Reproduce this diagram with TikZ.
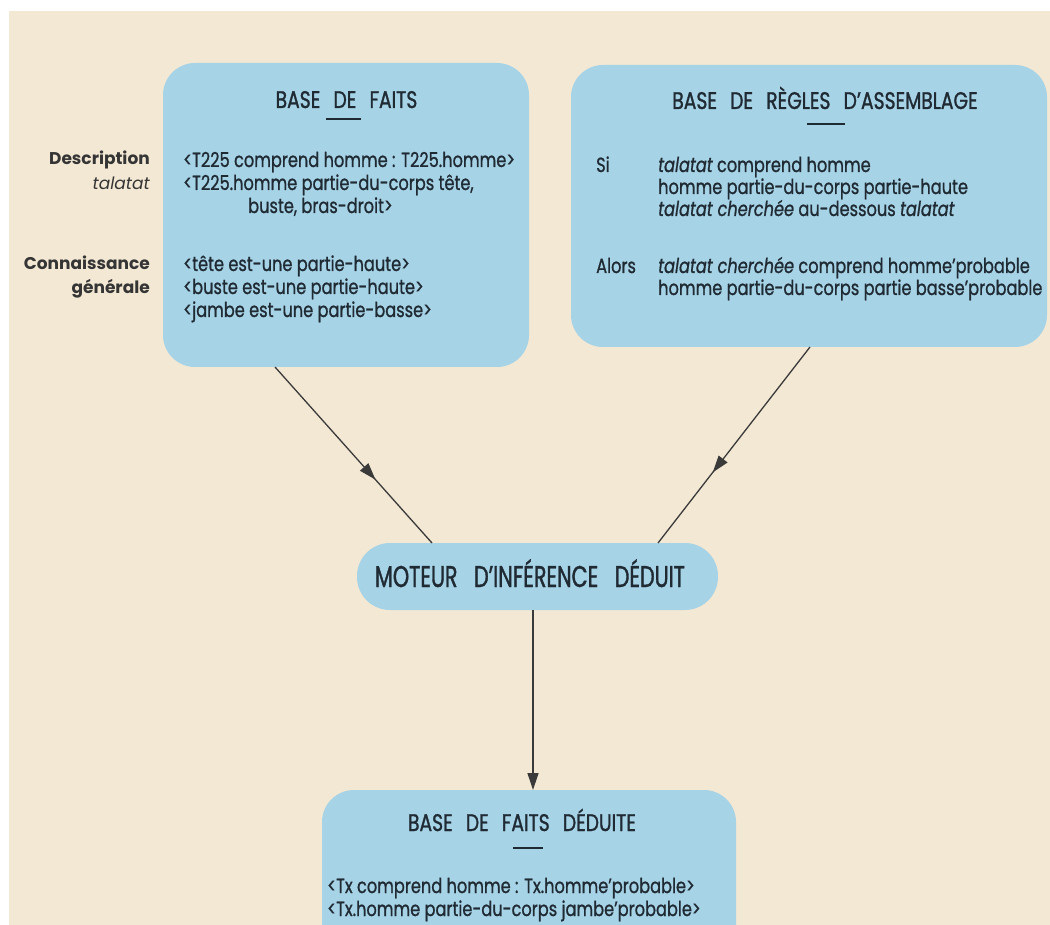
\documentclass[tikz,border=0pt]{standalone}
\usepackage{fontspec}
\usetikzlibrary{arrows.meta,decorations.markings}

% Narrow geometric sans for the panel texts, full width for the side labels
\newfontfamily\condfont[FakeStretch=0.79,FakeBold=0.9]{Poppins}
\newfontfamily\headfont[FakeStretch=0.78,FakeBold=1.2]{Poppins}
\newfontfamily\engfont[FakeStretch=0.69,FakeBold=1.2]{Poppins}
\newfontfamily\labelfont{Poppins}

\definecolor{paper}{HTML}{F3E8D4}
\definecolor{panel}{HTML}{A7D3E7}
\definecolor{ink}{HTML}{1F2A33}
\definecolor{wire}{HTML}{3A3A3A}
\definecolor{sidelabel}{HTML}{353535}

% wide spacing between the words of a heading
\newcommand{\wgap}{\hspace{0.55em}}

\begin{document}
\begin{tikzpicture}[x=1pt,y=-1pt,
  panelbox/.style={fill=panel, draw=none, rounded corners=32pt, inner sep=0pt, outer sep=0pt},
  pillbox/.style={fill=panel, draw=none, rounded corners=33pt, inner sep=0pt, outer sep=0pt},
  bodytext/.style={anchor=base west, inner sep=0pt, text=ink,
    font=\condfont\fontsize{20.5}{23}\selectfont},
  headtext/.style={anchor=base, inner sep=0pt, text=ink,
    font=\headfont\fontsize{24}{26}\selectfont},
  sidetext/.style={anchor=base east, inner sep=0pt, text=sidelabel,
    font=\labelfont\bfseries\fontsize{17}{20}\selectfont},
  headrule/.style={draw=ink, line width=2pt},
  flow/.style={draw=wire, line width=1.3pt, postaction={decorate},
    decoration={markings, mark=at position 0.64 with {\arrow{Triangle[length=17pt,width=11pt]}}}},
  feed/.style={draw=wire, line width=1.3pt, -{Triangle[length=17pt,width=11pt]}}
]
\useasboundingbox (0,0) rectangle (1050,925);
\clip (0,0) rectangle (1050,925);

% page
\fill[white] (0,0) rectangle (1050,925);
\fill[paper] (9,11) rectangle (1050,925);

% ---------------- panels ----------------
\node[panelbox, minimum width=366pt, minimum height=304pt] (faits) at (346,215) {};
\node[panelbox, minimum width=476pt, minimum height=282pt] (regles) at (809,206) {};
\node[pillbox, minimum width=361pt, minimum height=67pt] (moteur) at (537.5,576.5) {};
\node[panelbox, minimum width=414pt, minimum height=170pt] (deduite) at (529,875) {};

% ---------------- base de faits ----------------
\node[headtext] (faitsT) at (346.5,108) {BASE\wgap DE\wgap FAITS};
\draw[headrule] (326,119) -- (361,119);
\node[bodytext] (f1) at (183,167) {<T225 comprend homme : T225.homme>};
\node[bodytext] (f2) at (183,190) {<T225.homme partie-du-corps tête,};
\node[bodytext] (f3) at (248,213) {buste, bras-droit>};
\node[bodytext] (f4) at (183,271) {<tête est-une partie-haute>};
\node[bodytext] (f5) at (183,294) {<buste est-une partie-haute>};
\node[bodytext] (f6) at (183,317) {<jambe est-une partie-basse>};

\node[sidetext] (l1) at (150,165) {Description};
\node[sidetext] (l2) at (150,190) {\mdseries\itshape talatat};
\node[sidetext] (l3) at (150,270) {Connaissance};
\node[sidetext] (l4) at (150,294) {générale};

% ---------------- base de regles ----------------
\node[headtext] (reglesT) at (825,109) {BASE\wgap DE\wgap RÈGLES\wgap D’ASSEMBLAGE};
\draw[headrule] (807,124) -- (845,124);
\node[bodytext] (si) at (596,172) {Si};
\node[bodytext] (r1) at (658,172) {\itshape talatat\upshape{} comprend homme};
\node[bodytext] (r2) at (658,194) {homme partie-du-corps partie-haute};
\node[bodytext] (r3) at (658,216) {\itshape talatat cherchée\upshape{} au-dessous \itshape talatat};
\node[bodytext] (alors) at (596,273) {Alors};
\node[bodytext] (r4) at (658,273) {\itshape talatat cherchée\upshape{} comprend homme’probable};
\node[bodytext] (r5) at (658,295) {homme partie-du-corps partie basse’probable};

% ---------------- moteur ----------------
\node[headtext, font=\engfont\fontsize{30}{32}\selectfont] (moteurT) at (530,587)
  {MOTEUR\wgap D’INFÉRENCE\wgap DÉDUIT};

% ---------------- base de faits deduite ----------------
\node[headtext] (deduiteT) at (522,831) {BASE\wgap DE\wgap FAITS\wgap DÉDUITE};
\draw[headrule] (513,848) -- (543,848);
\node[bodytext] (d1) at (327,893) {<Tx comprend homme : Tx.homme’probable>};
\node[bodytext] (d2) at (327,916) {<Tx.homme partie-du-corps jambe’probable>};

% ---------------- connectors ----------------
\draw[flow] ([xshift=-71pt]faits.south) -- ([xshift=-105.5pt]moteur.north);
\draw[flow] ([xshift=1pt]regles.south) -- ([xshift=120.5pt]moteur.north);
\draw[feed] ([xshift=-4.5pt]moteur.south) -- ([xshift=4pt]deduite.north);
\end{tikzpicture}
\end{document}
